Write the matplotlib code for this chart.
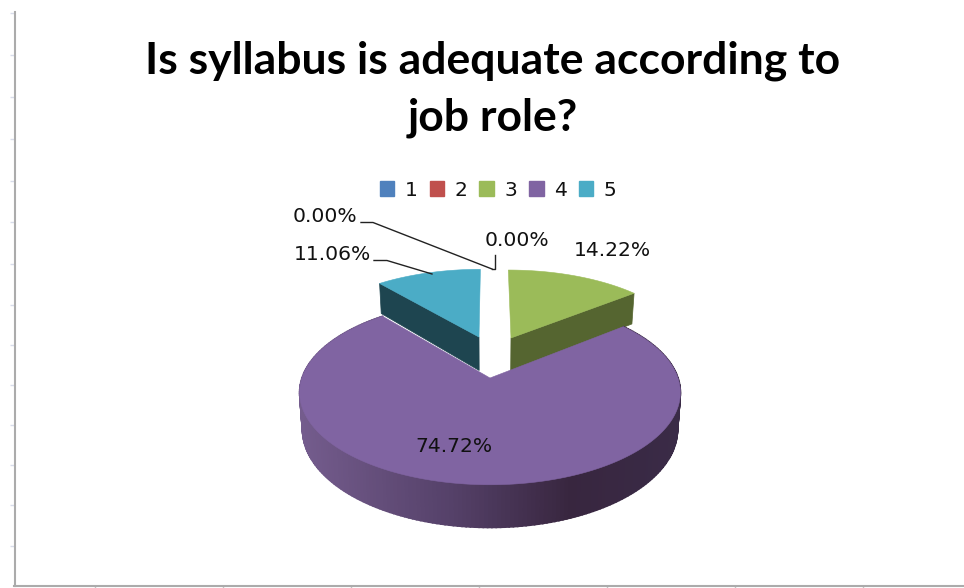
import numpy as np
import matplotlib
matplotlib.use('Agg')
import matplotlib.pyplot as plt
from matplotlib.patches import Patch, Polygon

TITLE = 'Is syllabus is adequate according to\njob role?'
categories = ['1', '2', '3', '4', '5']
values = [0.00, 0.00, 14.22, 74.72, 11.06]
colors = ['#4f81bd', '#c0504d', '#9bbb59', '#8064a2', '#4bacc6']
side_colors = ['#2f4d71', '#73302e', '#556530', '#32243f', '#1e4550']

# pixel geometry of the tilted pie (perspective fitted to the picture)
CX, CY = 490, 378
SCALE_X, SCALE_Y = 188, 90
PERSP = 0.157
DEPTH = 36
BOTTOM_SHRINK = 0.985
# explode offset of each slice on the unit disc
explode = {2: (0.12, 0.478), 3: (0.0, 0.0), 4: (-0.063, 0.49)}


def project(u, v):
	d = 1 + PERSP * v
	return CX + SCALE_X * u / d, CY - SCALE_Y * v / d


def project_bottom(u, v):
	x, y = project(u, v)
	return CX + (x - CX) * BOTTOM_SHRINK, y + DEPTH / (1 + PERSP * v)


def slice_arc(start, end, off):
	t = np.radians(np.linspace(start, end, 240))
	return off[0] + np.sin(t), off[1] + np.cos(t)


fig = plt.figure(figsize=(9.64, 5.88), dpi=100)
ax = fig.add_axes([0, 0, 1, 1])
ax.set_xlim(0, 964)
ax.set_ylim(588, 0)

# frame left over from the spreadsheet screenshot
for s in ['top', 'right']:
	ax.spines[s].set_visible(False)
ax.spines['left'].set_position(('data', 15))
ax.spines['bottom'].set_position(('data', 586))
ax.spines['left'].set_bounds(12, 586)
ax.spines['bottom'].set_bounds(14, 964)
for s in ['left', 'bottom']:
	ax.spines[s].set_linewidth(1.5)
	ax.spines[s].set_color('#ababab')
ax.set_yticks([13, 55, 97, 139, 181, 222, 264, 305, 345, 385, 425, 465, 505, 546])
ax.set_xticks([95, 223, 351, 479, 607, 735, 863])
ax.tick_params(axis='y', length=3.5, width=1, color='#d8dcea', labelleft=False)
ax.tick_params(axis='x', length=2, width=1, color='#c4c4c4', labelbottom=False)

edges = np.concatenate([[0], np.cumsum(values)]) * 3.6

# cut faces of the exploded slices
for i in [2, 4]:
	off = explode[i]
	corner = edges[i + 1] if i == 2 else edges[i]
	c_u, c_v = off[0] + np.sin(np.radians(corner)), off[1] + np.cos(np.radians(corner))
	face = [project(off[0], off[1]), project(c_u, c_v), project_bottom(c_u, c_v), project_bottom(off[0], off[1])]
	ax.add_patch(Polygon(face, closed=True, fc=side_colors[i], ec=side_colors[i], lw=0.5))

# rim of the big slice, shaded left to right
off = explode[3]
u, v = slice_arc(edges[3], edges[4], off)
tx, ty = project(u, v)
bx, by = project_bottom(u, v)
grad_x = [300, 450, 570, 680]
for j in range(len(u) - 1):
	quad = [(tx[j], ty[j]), (tx[j + 1], ty[j + 1]), (bx[j + 1], by[j + 1]), (bx[j], by[j])]
	mx = (tx[j] + tx[j + 1]) / 2
	rgb = [np.interp(mx, grad_x, [a, b, c, d]) / 255 for a, b, c, d in [(116, 85, 56, 58), (92, 65, 38, 43), (141, 105, 63, 71)]]
	ax.add_patch(Polygon(quad, closed=True, fc=rgb, ec=rgb, lw=1.2))

# top faces
for i in [2, 4, 3]:
	off = explode[i]
	u, v = slice_arc(edges[i], edges[i + 1], off)
	x, y = project(u, v)
	ax_, ay_ = project(off[0], off[1])
	pts = np.column_stack([np.r_[ax_, x], np.r_[ay_, y]])
	ax.add_patch(Polygon(pts, closed=True, fc=colors[i], ec=colors[i], lw=0.4))

# value labels and their leader lines
label_pos = [(325, 216), (517, 240), (612, 250), (454, 447), (332, 255)]
for val, pos in zip(values, label_pos):
	ax.text(pos[0], pos[1], f'{val:.2f}%', fontsize=14.6, color='#111111', ha='center', va='center', family='DejaVu Sans')
leaders = [
	([361, 373, 492], [222.5, 222.5, 269]),
	([495, 495, 492], [255, 269, 269]),
	([374, 387, 432], [260.5, 260.5, 274]),
]
for lx, ly in leaders:
	ax.plot(lx, ly, color='#222222', lw=1)

handles = [Patch(fc=c, ec=c, label=n) for c, n in zip(colors, categories)]
ax.legend(handles=handles, ncol=5, loc='center', bbox_to_anchor=(498, 190), bbox_transform=ax.transData,
	frameon=False, borderpad=0, handlelength=0.72, handleheight=0.72, handletextpad=0.5,
	columnspacing=0.6, labelcolor='#111111', prop={'family': 'DejaVu Sans', 'size': 14.6})

ax.text(493, 89, TITLE, fontsize=32, fontweight='bold', family='Lato', color='black', ha='center', va='center', linespacing=1.5)

fig.savefig('out.png', dpi=100)
